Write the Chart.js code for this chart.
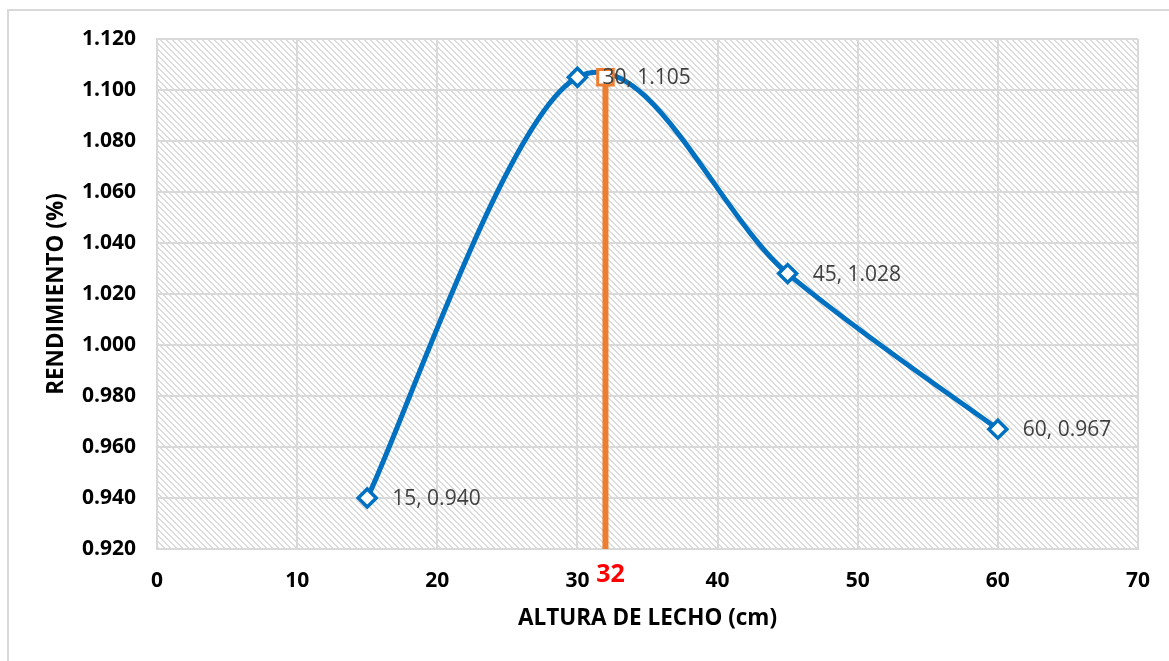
<!DOCTYPE html>
<html>
<head>
<meta charset="utf-8">
<title>Rendimiento vs altura de lecho</title>
<script src="https://cdn.jsdelivr.net/npm/chart.js@4/dist/chart.umd.min.js"></script>
<style>
  html, body { margin: 0; padding: 0; background: #ffffff; }
  #wrap { position: relative; width: 1169px; height: 661px; overflow: hidden; }
  #frame { position: absolute; left: 7px; top: 9px; width: 1180px; height: 720px;
           border: 2px solid #d9d9d9; box-sizing: border-box; }
  #c { position: absolute; left: 0; top: 0; }
</style>
</head>
<body>
<div id="wrap">
  <div id="frame"></div>
  <canvas id="c" width="1169" height="661"></canvas>
</div>
<script>
// Measured bed heights (cm) and the resulting yield
const alturas = [15, 30, 45, 60];
const rendimientos = [0.940, 1.105, 1.028, 0.967];

// Chosen optimum bed height, marked with a vertical line
const alturaOptima = 32;
const rendimientoOptimo = 1.105;

// Axis ticks
const xTickValues = [0, 10, 20, 30, 40, 50, 60, 70];
const yTickValues = [0.920, 0.940, 0.960, 0.980, 1.000, 1.020, 1.040, 1.060, 1.080, 1.100, 1.120];

const FONT = "'Open Sans', 'Liberation Sans', sans-serif";
const BLUE = '#0070C0';
const ORANGE = '#ED7D31';
const GRID = '#d9d9d9';

// Diagonal hatch used for the plot background
function makeHatch(ctx) {
  const tile = document.createElement('canvas');
  tile.width = 6; tile.height = 6;
  const t = tile.getContext('2d');
  t.fillStyle = '#ffffff';
  t.fillRect(0, 0, 6, 6);
  t.fillStyle = '#dcdcdc';
  for (let i = 0; i < 6; i++) {
    t.fillRect(i, i, 1, 1);
    t.fillRect((i + 1) % 6, i, 1, 1);
  }
  return ctx.createPattern(tile, 'repeat');
}

const hatchBackground = {
  id: 'hatchBackground',
  beforeDraw(chart) {
    const { ctx, chartArea: a } = chart;
    ctx.save();
    ctx.fillStyle = makeHatch(ctx);
    ctx.fillRect(a.left, a.top, a.right - a.left, a.bottom - a.top);
    ctx.restore();
  }
};

// Smoothed-line control points in the classic spreadsheet style:
// each tangent is one sixth of the chord between the neighbouring points.
const sixthSmoothing = {
  id: 'sixthSmoothing',
  beforeDatasetDraw(chart, args) {
    const meta = args.meta;
    if (!meta.dataset || !meta.dataset.options.tension) return;
    const line = meta.dataset;
    line.updateControlPoints(chart.chartArea, meta.iScale.axis);
    const pts = line.points;
    const n = pts.length;
    for (let i = 0; i < n; i++) {
      const prev = pts[Math.max(i - 1, 0)];
      const next = pts[Math.min(i + 1, n - 1)];
      const dx = (next.x - prev.x) / 6;
      const dy = (next.y - prev.y) / 6;
      pts[i].cp1x = pts[i].x - dx;
      pts[i].cp1y = pts[i].y - dy;
      pts[i].cp2x = pts[i].x + dx;
      pts[i].cp2y = pts[i].y + dy;
    }
    line._path = undefined;
  }
};

// Value labels next to each point and the optimum label under the axis
const valueLabels = {
  id: 'valueLabels',
  afterDatasetsDraw(chart) {
    const { ctx, scales: { x, y } } = chart;
    ctx.save();
    ctx.font = '21px ' + FONT;
    ctx.fillStyle = '#404040';
    ctx.textAlign = 'left';
    ctx.textBaseline = 'middle';
    alturas.forEach((a, i) => {
      const px = x.getPixelForValue(a);
      const py = y.getPixelForValue(rendimientos[i]);
      ctx.fillText(a + ', ' + rendimientos[i].toFixed(3), px + 25, py + 1);
    });
    ctx.font = 'bold 25px ' + FONT;
    ctx.fillStyle = '#ff0000';
    ctx.textAlign = 'center';
    ctx.fillText(String(alturaOptima), x.getPixelForValue(alturaOptima) + 5, y.bottom + 26);
    ctx.restore();
  }
};

new Chart(document.getElementById('c'), {
  type: 'line',
  data: {
    datasets: [
      {
        label: 'Rendimiento',
        data: alturas.map((a, i) => ({ x: a, y: rendimientos[i] })),
        tension: 0.4,
        fill: false,
        borderColor: BLUE,
        borderWidth: 5,
        pointStyle: 'rectRot',
        pointRadius: 9,
        pointBorderWidth: 3.5,
        pointBorderColor: BLUE,
        pointBackgroundColor: '#ffffff',
        order: 2
      },
      {
        label: 'Óptimo',
        data: [{ x: alturaOptima, y: yTickValues[0] }, { x: alturaOptima, y: rendimientoOptimo }],
        tension: 0,
        fill: false,
        borderColor: ORANGE,
        borderWidth: 6,
        pointStyle: 'rect',
        pointRadius: [0, 11],
        pointBorderWidth: 3,
        pointBorderColor: ORANGE,
        pointBackgroundColor: '#ffffff',
        order: 1
      }
    ]
  },
  options: {
    responsive: false,
    animation: false,
    events: [],
    layout: { padding: { left: 0, right: 30, top: 39, bottom: 0 } },
    plugins: { legend: { display: false }, tooltip: { enabled: false } },
    scales: {
      x: {
        type: 'linear',
        min: xTickValues[0],
        max: xTickValues[xTickValues.length - 1],
        afterBuildTicks(s) { s.ticks = xTickValues.map(v => ({ value: v })); },
        afterFit(s) { s.height = 112; },
        grid: { color: GRID, lineWidth: 2, drawTicks: false },
        border: { color: GRID, width: 2 },
        ticks: { color: '#000000', padding: 19, font: { family: FONT, size: 21, weight: 'bold' },
                 callback: v => String(v) },
        title: { display: true, text: 'ALTURA DE LECHO (cm)', color: '#000000',
                 font: { family: FONT, size: 22.5, weight: 'bold' }, padding: { top: 0, bottom: 28.5 } }
      },
      y: {
        type: 'linear',
        min: yTickValues[0],
        max: yTickValues[yTickValues.length - 1],
        afterBuildTicks(s) { s.ticks = yTickValues.map(v => ({ value: v })); },
        afterFit(s) { s.width = 157; },
        grid: { color: GRID, lineWidth: 2, drawTicks: false },
        border: { color: GRID, width: 2 },
        ticks: { color: '#000000', padding: 21, font: { family: FONT, size: 21, weight: 'bold' },
                 callback: v => Number(v).toFixed(3) },
        title: { display: true, text: 'RENDIMIENTO (%)', color: '#000000',
                 font: { family: FONT, size: 22.5, weight: 'bold' }, padding: { top: 43, bottom: 0 } }
      }
    }
  },
  plugins: [hatchBackground, sixthSmoothing, valueLabels]
});
</script>
</body>
</html>
